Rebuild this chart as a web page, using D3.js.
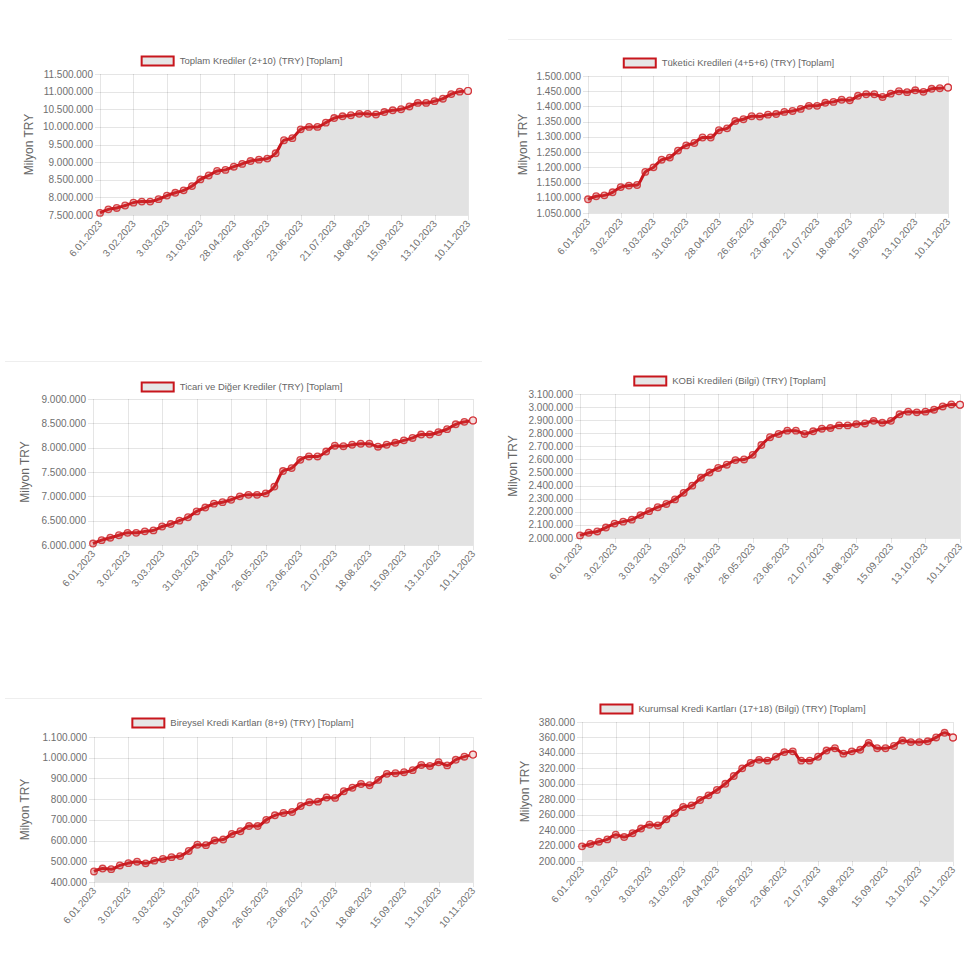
<!DOCTYPE html>
<html>
<head>
<meta charset="utf-8">
<script src="https://cdn.jsdelivr.net/npm/d3@7"></script>
<style>
  body { margin: 0; background: #fff; }
  svg { display: block; font-family: "Liberation Sans", Arial, Helvetica, sans-serif; }
  .grid line { stroke: rgba(0,0,0,0.1); stroke-width: 1; }
  .tickText { fill: #6f6f6f; font-size: 10px; }
  .axisTitle { fill: #666; font-size: 12px; }
  .legendText { fill: #666; font-size: 9.5px; }
</style>
</head>
<body>
<div id="chart"></div>
<script>
// weekly dates, 6.01.2023 .. 10.11.2023
const dates = ["6.01.2023","13.01.2023","20.01.2023","27.01.2023","3.02.2023","10.02.2023","17.02.2023","24.02.2023",
  "3.03.2023","10.03.2023","17.03.2023","24.03.2023","31.03.2023","7.04.2023","14.04.2023","21.04.2023",
  "28.04.2023","5.05.2023","12.05.2023","19.05.2023","26.05.2023","2.06.2023","9.06.2023","16.06.2023",
  "23.06.2023","30.06.2023","7.07.2023","14.07.2023","21.07.2023","28.07.2023","4.08.2023","11.08.2023",
  "18.08.2023","25.08.2023","1.09.2023","8.09.2023","15.09.2023","22.09.2023","29.09.2023","6.10.2023",
  "13.10.2023","20.10.2023","27.10.2023","3.11.2023","10.11.2023"];

const toplamKrediler = [7560000,7660000,7700000,7770000,7850000,7880000,7880000,7950000,8050000,8130000,
  8200000,8320000,8510000,8620000,8750000,8780000,8870000,8950000,9030000,9070000,
  9100000,9250000,9620000,9680000,9930000,10000000,10000000,10120000,10250000,10300000,
  10330000,10370000,10370000,10350000,10420000,10470000,10500000,10580000,10680000,10680000,
  10730000,10800000,10930000,11000000,11020000];

const tuketiciKredileri = [1095000,1105000,1108000,1118000,1135000,1140000,1142000,1185000,1200000,1225000,
  1232000,1255000,1272000,1280000,1298000,1298000,1322000,1328000,1352000,1358000,
  1368000,1367000,1373000,1375000,1382000,1385000,1392000,1402000,1402000,1412000,
  1415000,1422000,1420000,1435000,1440000,1440000,1431000,1442000,1450000,1447000,
  1453000,1448000,1458000,1460000,1462000];

const ticariKrediler = [6030000,6100000,6150000,6200000,6250000,6250000,6280000,6300000,6380000,6430000,
  6500000,6570000,6690000,6770000,6850000,6880000,6930000,7000000,7030000,7030000,
  7060000,7200000,7520000,7580000,7750000,7820000,7820000,7920000,8040000,8030000,
  8060000,8080000,8080000,8020000,8060000,8100000,8150000,8200000,8270000,8270000,
  8320000,8380000,8480000,8530000,8560000];

const kobiKredileri = [2020000,2040000,2050000,2080000,2110000,2125000,2140000,2175000,2205000,2235000,
  2260000,2295000,2345000,2400000,2460000,2500000,2535000,2560000,2595000,2600000,
  2635000,2710000,2770000,2795000,2820000,2820000,2795000,2815000,2835000,2840000,
  2860000,2860000,2870000,2875000,2895000,2880000,2895000,2945000,2965000,2960000,
  2965000,2980000,3005000,3020000,3018000];

const bireyselKartlar = [451000,465000,462000,480000,491000,498000,490000,503000,511000,520000,
  525000,550000,580000,578000,600000,605000,632000,645000,670000,670000,
  700000,722000,733000,738000,767000,785000,788000,808000,806000,838000,
  855000,873000,867000,893000,922000,925000,930000,940000,965000,960000,
  978000,963000,990000,1005000,1015000];

const kurumsalKartlar = [219000,222000,225000,228000,234000,231000,236000,242000,247000,246000,
  254000,262000,270000,272000,279000,285000,292000,300000,310000,320000,
  327000,331000,330000,335000,341000,342000,330000,330000,335000,343000,
  346000,339000,342000,344000,353000,346000,346000,349000,356000,354000,
  354000,355000,360000,366000,360000];

const seriesNames = [
  "Toplam Krediler (2+10) (TRY) [Toplam]",
  "Tüketici Kredileri (4+5+6) (TRY) [Toplam]",
  "Ticari ve Diğer Krediler (TRY) [Toplam]",
  "KOBİ Kredileri (Bilgi) (TRY) [Toplam]",
  "Bireysel Kredi Kartları (8+9) (TRY) [Toplam]",
  "Kurumsal Kredi Kartları (17+18) (Bilgi) (TRY) [Toplam]"
];
const seriesValues = [toplamKrediler, tuketiciKredileri, ticariKrediler, kobiKredileri, bireyselKartlar, kurumsalKartlar];
const yDomains = [[7500000, 11500000], [1050000, 1500000], [6000000, 9000000], [2000000, 3100000], [400000, 1100000], [200000, 380000]];
const ySteps = [500000, 50000, 500000, 100000, 100000, 20000];
const yTitle = "Milyon TRY";

// plot-area layout of each panel
const layout = [
  {left: 100, right: 468, top: 74,  bottom: 215, titleX: 29,  legendX: 242, legendY: 61},
  {left: 588, right: 948, top: 76,  bottom: 213, titleX: 523, legendX: 729, legendY: 63},
  {left: 93,  right: 473, top: 399, bottom: 545, titleX: 25,  legendX: 242, legendY: 387},
  {left: 580, right: 960, top: 394, bottom: 538, titleX: 513, legendX: 730, legendY: 381},
  {left: 94,  right: 473, top: 737, bottom: 882, titleX: 25,  legendX: 243, legendY: 723},
  {left: 582, right: 953, top: 722, bottom: 861, titleX: 525, legendX: 733, legendY: 709}
];
const separators = [
  {x1: 508, x2: 952, y: 39},
  {x1: 5, x2: 482, y: 361},
  {x1: 5, x2: 482, y: 698}
];

const lineColor = "#c8161d";
const fillColor = "#e2e2e2";

const trLocale = d3.formatLocale({decimal: ",", thousands: ".", grouping: [3], currency: ["", ""]});
const fmt = trLocale.format(",d");

const svg = d3.select("#chart").append("svg")
  .attr("width", 976)
  .attr("height", 973);

svg.selectAll(".sep")
  .data(separators)
  .enter().append("line")
  .attr("class", "sep")
  .attr("x1", d => d.x1).attr("x2", d => d.x2)
  .attr("y1", d => d.y + 0.5).attr("y2", d => d.y + 0.5)
  .attr("stroke", "#eeeeee");

seriesValues.forEach((values, i) => {
  const L = layout[i];
  const g = svg.append("g");

  const x = d3.scalePoint().domain(dates).range([L.left, L.right]);
  const y = d3.scaleLinear().domain(yDomains[i]).range([L.bottom, L.top]);
  const yTicks = d3.range(yDomains[i][0], yDomains[i][1] + 1, ySteps[i]);
  const xTicks = dates.filter((d, k) => k % 4 === 0);

  // grid
  const grid = g.append("g").attr("class", "grid");
  grid.selectAll(".h").data(yTicks).enter().append("line")
    .attr("x1", L.left - 5).attr("x2", L.right)
    .attr("y1", d => Math.round(y(d)) + 0.5).attr("y2", d => Math.round(y(d)) + 0.5);
  grid.selectAll(".v").data(xTicks).enter().append("line")
    .attr("x1", d => Math.round(x(d)) + 0.5).attr("x2", d => Math.round(x(d)) + 0.5)
    .attr("y1", L.top).attr("y2", L.bottom + 5);

  // area + line
  const pts = dates.map((d, k) => ({date: d, value: values[k]}));
  const area = d3.area()
    .x(d => x(d.date))
    .y0(L.bottom)
    .y1(d => y(d.value))
    .curve(d3.curveMonotoneX);
  const line = d3.line()
    .x(d => x(d.date))
    .y(d => y(d.value))
    .curve(d3.curveMonotoneX);

  g.append("path").datum(pts)
    .attr("d", area)
    .attr("fill", fillColor);

  g.append("path").datum(pts)
    .attr("d", line)
    .attr("fill", "none")
    .attr("stroke", lineColor)
    .attr("stroke-width", 3);

  // points blend into the thick line
  g.selectAll(".pt").data(pts).enter().append("circle")
    .attr("class", "pt")
    .attr("cx", d => x(d.date))
    .attr("cy", d => y(d.value))
    .attr("r", 3.3)
    .attr("fill", "rgba(210,60,60,0.35)")
    .attr("stroke", "rgba(205,30,35,0.8)")
    .attr("stroke-width", 1.3);

  // last point looks hollow
  const last = pts[pts.length - 1];
  g.append("circle")
    .attr("cx", x(last.date)).attr("cy", y(last.value))
    .attr("r", 3.4)
    .attr("fill", "#f3dede")
    .attr("stroke", "#d4343a")
    .attr("stroke-width", 1.2);

  // y tick labels
  g.selectAll(".yt").data(yTicks).enter().append("text")
    .attr("class", "tickText")
    .attr("x", L.left - 7)
    .attr("y", d => y(d))
    .attr("dy", "0.35em")
    .attr("text-anchor", "end")
    .text(d => fmt(d));

  // x tick labels
  g.selectAll(".xt").data(xTicks).enter().append("text")
    .attr("class", "tickText")
    .attr("text-anchor", "end")
    .attr("transform", d => `translate(${x(d) + 3},${L.bottom + 9}) rotate(-49)`)
    .text(d => d);

  // axis title
  g.append("text")
    .attr("class", "axisTitle")
    .attr("transform", `translate(${L.titleX},${(L.top + L.bottom) / 2}) rotate(-90)`)
    .attr("text-anchor", "middle")
    .attr("dy", "0.35em")
    .text(yTitle);

  // legend
  const leg = g.append("g");
  leg.append("rect")
    .attr("x", 0).attr("y", -4.5)
    .attr("width", 32).attr("height", 9)
    .attr("fill", "#e6e6e6")
    .attr("stroke", lineColor)
    .attr("stroke-width", 2);
  const lt = leg.append("text")
    .attr("class", "legendText")
    .attr("x", 38)
    .attr("dy", "0.35em")
    .text(seriesNames[i]);
  const w = 38 + lt.node().getComputedTextLength();
  leg.attr("transform", `translate(${L.legendX - w / 2},${L.legendY})`);
});
</script>
</body>
</html>
